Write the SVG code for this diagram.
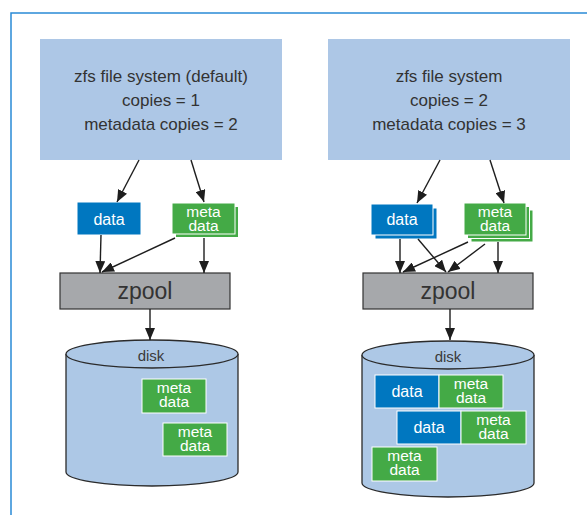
<svg xmlns="http://www.w3.org/2000/svg" width="587" height="515" viewBox="0 0 587 515">
<defs>
<style>
.fs{fill:#adc7e6}
.ft{font-family:"Liberation Sans",Arial,sans-serif;font-size:17px;fill:#333;text-anchor:middle}
.blu{fill:#0077c0;stroke:#fff;stroke-width:1}
.grn{fill:#44aa46;stroke:#fff;stroke-width:1}
.bt{font-family:"Liberation Sans",Arial,sans-serif;font-size:16px;fill:#fff;text-anchor:middle}
.mt{font-family:"Liberation Sans",Arial,sans-serif;font-size:15.5px;fill:#fff;text-anchor:middle}
.zp{fill:#a6a8ab;stroke:#333;stroke-width:1.2}
.zt{font-family:"Liberation Sans",Arial,sans-serif;font-size:23px;fill:#333;text-anchor:middle}
.dk{fill:#adc8e6;stroke:#2b2b2b;stroke-width:1.3}
.dt{font-family:"Liberation Sans",Arial,sans-serif;font-size:15px;fill:#3a3a3a;text-anchor:middle}
.ar{stroke:#1e1e1e;stroke-width:1.4;fill:none;marker-end:url(#ah)}
</style>
<marker id="ah" markerUnits="userSpaceOnUse" markerWidth="12" markerHeight="10" refX="12" refY="5" orient="auto" viewBox="0 0 12 10">
<path d="M0,0 L12,5 L0,10 z" fill="#1e1e1e"/>
</marker>
</defs>
<rect x="0" y="0" width="587" height="515" fill="#fff"/>
<path d="M11,515 L11,13 L587,13" fill="none" stroke="#2a8ad6" stroke-width="1.5"/>

<g id="fs-left">
<rect class="fs" x="40" y="39" width="242" height="121"/>
<text class="ft" x="161" y="82">zfs file system (default)</text>
<text class="ft" x="161" y="106">copies = 1</text>
<text class="ft" x="161" y="130">metadata copies = 2</text>
</g>
<g id="fs-right">
<rect class="fs" x="328" y="39" width="242" height="121"/>
<text class="ft" x="449" y="82">zfs file system</text>
<text class="ft" x="449" y="106">copies = 2</text>
<text class="ft" x="449" y="130">metadata copies = 3</text>
</g>

<g id="data-left">
<rect class="blu" x="77" y="202" width="64" height="33"/>
<text class="bt" x="109" y="225">data</text>
</g>
<g id="meta-left">
<rect class="grn" x="175.5" y="206.5" width="63" height="31"/>
<rect class="grn" x="172" y="203" width="63" height="31"/>
<text class="mt" x="203.5" y="217">meta</text>
<text class="mt" x="203.5" y="231">data</text>
</g>
<g id="data-right">
<rect class="blu" x="375" y="208" width="62" height="31"/>
<rect class="blu" x="371" y="204" width="62" height="31"/>
<text class="bt" x="402" y="225">data</text>
</g>
<g id="meta-right">
<rect class="grn" x="471" y="210" width="62" height="32"/>
<rect class="grn" x="467.5" y="206.5" width="62" height="32"/>
<rect class="grn" x="464" y="203" width="62" height="32"/>
<text class="mt" x="495" y="217">meta</text>
<text class="mt" x="495" y="231">data</text>
</g>

<g id="zpool-left">
<rect class="zp" x="60" y="273" width="170" height="36"/>
<text class="zt" x="145" y="299">zpool</text>
</g>
<g id="zpool-right">
<rect class="zp" x="363" y="273" width="170" height="36"/>
<text class="zt" x="448" y="299">zpool</text>
</g>

<g id="disk-left">
<path class="dk" d="M66,354 L66,472 A86,14 0 0 0 238,472 L238,354"/>
<ellipse class="dk" cx="152" cy="354" rx="86" ry="14"/>
<text class="dt" x="151" y="361">disk</text>
<rect class="grn" x="142" y="379" width="64" height="34"/>
<text class="mt" x="174" y="393">meta</text>
<text class="mt" x="174" y="407">data</text>
<rect class="grn" x="163" y="423" width="64" height="33"/>
<text class="mt" x="195" y="437">meta</text>
<text class="mt" x="195" y="451">data</text>
</g>
<g id="disk-right">
<path class="dk" d="M362,355 L362,483 A86,14 0 0 0 534,483 L534,355"/>
<ellipse class="dk" cx="448" cy="355" rx="86" ry="14"/>
<text class="dt" x="448" y="362">disk</text>
<rect class="blu" x="375" y="375" width="64" height="33"/>
<text class="bt" x="407" y="397">data</text>
<rect class="grn" x="439" y="375" width="64" height="33"/>
<text class="mt" x="471" y="389">meta</text>
<text class="mt" x="471" y="403">data</text>
<rect class="blu" x="397" y="411" width="64" height="33"/>
<text class="bt" x="429" y="433">data</text>
<rect class="grn" x="461" y="411" width="65" height="33"/>
<text class="mt" x="493.5" y="425">meta</text>
<text class="mt" x="493.5" y="439">data</text>
<rect class="grn" x="372" y="447" width="65" height="34"/>
<text class="mt" x="404.5" y="461">meta</text>
<text class="mt" x="404.5" y="475">data</text>
</g>

<g id="connectors">
<line class="ar" x1="139" y1="160" x2="117" y2="202"/>
<line class="ar" x1="191" y1="160" x2="204" y2="202"/>
<line class="ar" x1="101" y1="235" x2="100" y2="273"/>
<line class="ar" x1="175" y1="238" x2="102" y2="272"/>
<line class="ar" x1="204" y1="238" x2="204" y2="273"/>
<line class="ar" x1="150" y1="309" x2="150" y2="340"/>

<line class="ar" x1="440" y1="160" x2="417" y2="203"/>
<line class="ar" x1="490" y1="160" x2="504" y2="203"/>
<line class="ar" x1="400" y1="239" x2="400" y2="273"/>
<line class="ar" x1="418" y1="239" x2="446" y2="272"/>
<line class="ar" x1="468" y1="242" x2="403" y2="272"/>
<line class="ar" x1="485" y1="244" x2="448" y2="272"/>
<line class="ar" x1="498" y1="242" x2="498" y2="273"/>
<line class="ar" x1="450" y1="309" x2="450" y2="340"/>
</g>
</svg>
